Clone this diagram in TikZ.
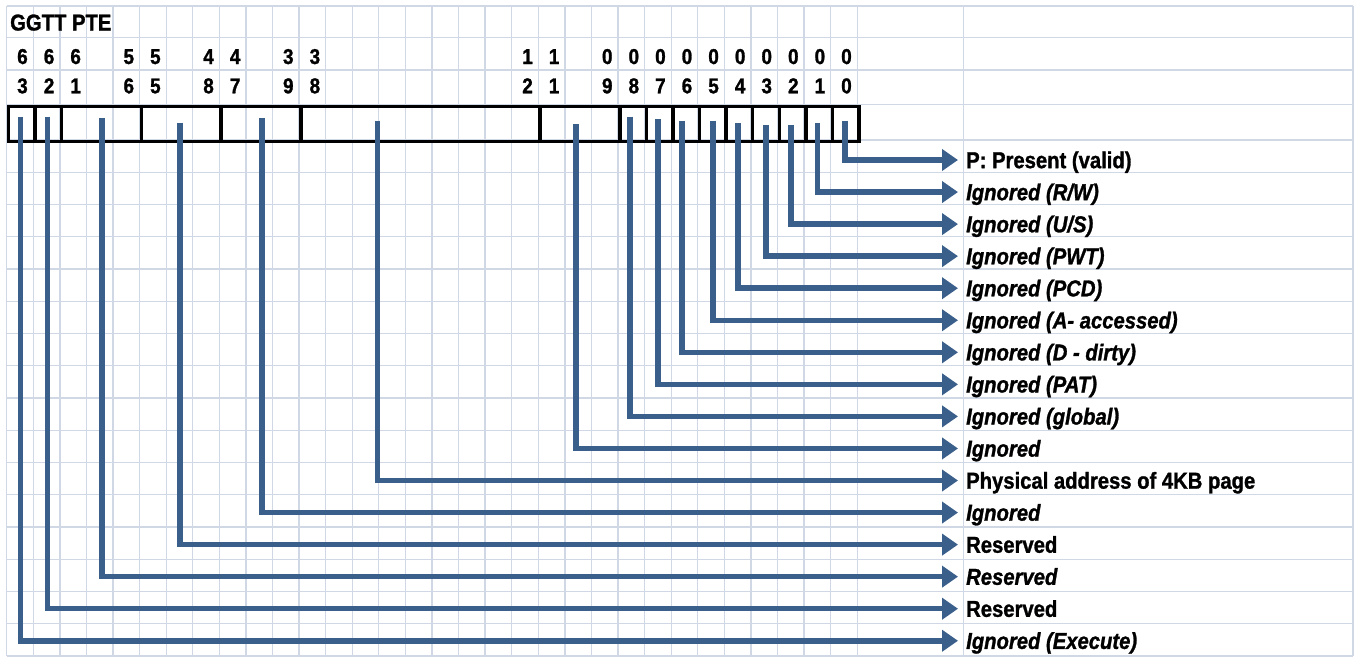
\documentclass[tikz,border=0pt]{standalone}
\usepackage{fontspec}
\setmainfont{Liberation Sans}[FakeStretch=0.88, BoldFeatures={FakeBold=1.2}, BoldItalicFeatures={FakeBold=1.2}]
\usetikzlibrary{arrows.meta}
\definecolor{gridc}{RGB}{208,215,229}
\definecolor{connc}{RGB}{58,95,139}
\begin{document}
\begin{tikzpicture}[x=1pt,y=-1pt,
  gridline/.style={draw=gridc, line width=1.3pt},
  field/.style={draw=black, line width=3.5pt, minimum height=35pt, inner sep=0pt, anchor=north west},
  conn/.style={draw=connc, line width=5.5pt, -{Triangle[length=16pt,width=21pt]}},
  lbl/.style={anchor=west, inner xsep=8pt, inner ysep=0pt, text height=16.3pt, text depth=0pt, font=\fontsize{23}{25}\selectfont\bfseries},
  ilbl/.style={lbl, font=\fontsize{23}{25}\selectfont\bfseries\itshape},
  digit/.style={anchor=base, inner sep=0pt, font=\fontsize{21.5}{24}\selectfont\bfseries},
]
\useasboundingbox[fill=white] (0,0) rectangle (1354,656);
% grid
\foreach \k in {0,...,32} {\draw[gridline] ({6.7+26.58*\k},6) -- ({6.7+26.58*\k},656);}
\draw[gridline] (963.3,6) -- (963.3,656);
\draw[gridline] (1353,6) -- (1353,656);
\foreach \y in {6,37.7,70,104.3} {\draw[gridline] (6.7,\y) -- (1353,\y);}
\foreach \n in {0,...,16} {\draw[gridline] (6.7,{140+32.25*\n}) -- (1353,{140+32.25*\n});}
% title
\node[anchor=base west, inner sep=0pt, font=\fontsize{23}{25}\selectfont\bfseries] (title) at (10,30.5) {GGTT PTE};
% bit numbers
\foreach \k/\a/\b in {0/6/3,1/6/2,2/6/1,4/5/6,5/5/5,7/4/8,8/4/7,10/3/9,11/3/8,19/1/2,20/1/1,22/0/9,23/0/8,24/0/7,25/0/6,26/0/5,27/0/4,28/0/3,29/0/2,30/0/1,31/0/0} {
  \node[digit] (u\k) at ({6.7+26.58*(\k+0.5)+2.5},64) {\a};
  \node[digit] (d\k) at ({6.7+26.58*(\k+0.5)+2.5},93.3) {\b};
}
% fields
\foreach \nm/\ka/\kb in {b63/0/1,b62/1/2,f61/2/5,f55/5/8,f47/8/11,f38/11/20,f11/20/23,b8/23/24,b7/24/25,b6/25/26,b5/26/27,b4/27/28,b3/28/29,b2/29/30,b1/30/31,b0/31/32} {
  \node[field, minimum width={26.58*(\kb-\ka)}] (\nm) at ({6.7+26.58*\ka},104.5) {};
}
% labels
\node[lbl]  (l0)  at (958,{160+32.05*0})  {P: Present (valid)};
\node[ilbl] (l1)  at (958,{160+32.05*1})  {Ignored (R/W)};
\node[ilbl] (l2)  at (958,{160+32.05*2})  {Ignored (U/S)};
\node[ilbl] (l3)  at (958,{160+32.05*3})  {Ignored (PWT)};
\node[ilbl] (l4)  at (958,{160+32.05*4})  {Ignored (PCD)};
\node[ilbl] (l5)  at (958,{160+32.05*5})  {Ignored (A- accessed)};
\node[ilbl] (l6)  at (958,{160+32.05*6})  {Ignored (D - dirty)};
\node[ilbl] (l7)  at (958,{160+32.05*7})  {Ignored (PAT)};
\node[ilbl] (l8)  at (958,{160+32.05*8})  {Ignored (global)};
\node[ilbl] (l9)  at (958,{160+32.05*9})  {Ignored};
\node[lbl]  (l10) at (958,{160+32.05*10}) {Physical address of 4KB page};
\node[ilbl] (l11) at (958,{160+32.05*11}) {Ignored};
\node[lbl]  (l12) at (958,{160+32.05*12}) {Reserved};
\node[ilbl] (l13) at (958,{160+32.05*13}) {Reserved};
\node[lbl]  (l14) at (958,{160+32.05*14}) {Reserved};
\node[ilbl] (l15) at (958,{160+32.05*15}) {Ignored (Execute)};
% connector start points
\coordinate (c0)  at (845,120.7);
\coordinate (c1)  at (817.7,122.7);
\coordinate (c2)  at (791,125);
\coordinate (c3)  at (766,125);
\coordinate (c4)  at (738,123);
\coordinate (c5)  at (713,120.7);
\coordinate (c6)  at (682,121);
\coordinate (c7)  at (658,119.3);
\coordinate (c8)  at (630,116.7);
\coordinate (c9)  at (576,124);
\coordinate (c10) at (377.7,120.7);
\coordinate (c11) at (262,118.3);
\coordinate (c12) at (180,122.7);
\coordinate (c13) at (102,118.3);
\coordinate (c14) at (47.3,116.7);
\coordinate (c15) at (20.7,116.7);
\foreach \i in {0,...,15} {\draw[conn] (c\i) |- (l\i.west);}
\end{tikzpicture}
\end{document}
